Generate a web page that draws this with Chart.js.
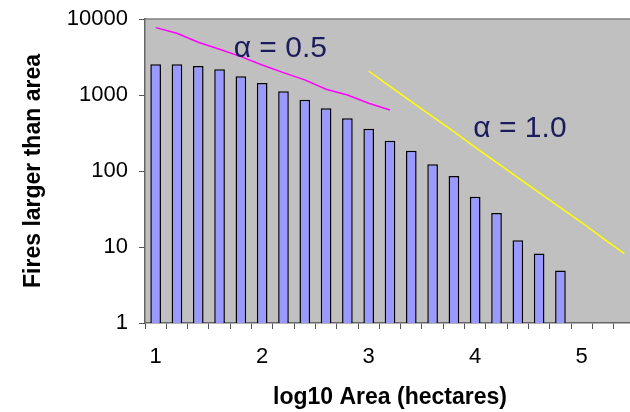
<!DOCTYPE html>
<html>
<head>
<meta charset="utf-8">
<script src="https://cdn.jsdelivr.net/npm/chart.js@4"></script>
<style>
  html, body { margin: 0; padding: 0; background: #fff; overflow: hidden; }
  #wrap { width: 640px; height: 412px; }
</style>
</head>
<body>
<div id="wrap"><canvas id="fireChart" width="640" height="412"></canvas></div>
<script>
// Categories: log10 of burned area, step 0.2
const areaLabels = ["1.0", "1.2", "1.4", "1.6", "1.8", "2.0", "2.2", "2.4", "2.6", "2.8", "3.0", "3.2",
  "3.4", "3.6", "3.8", "4.0", "4.2", "4.4", "4.6", "4.8", "5.0", "5.2", "5.4"]

// Number of fires larger than each area
const firesLarger = [2540, 2540, 2410, 2180, 1760, 1440, 1120, 867, 668, 493, 360, 250,
  184, 123, 86, 46, 28, 12.3, 8.2, 4.9]

// Reference slopes
const alphaHalf = [7700, 6500, 4950, 4000, 3200, 2480, 1970, 1580, 1190, 1000, 780, 634]
const alphaOne = [null, null, null, null, null, null, null, null, null, null,
  2070, 1300, 820, 520, 330, 205, 130, 82, 52, 33, 21, 13, 8.2]

const yTicks = [1, 10, 100, 1000, 10000]

// Text notes, placed in data coordinates (category index, value)
const notes = [
  { text: "\u03b1 = 0.5", at: 5.85, value: 4070 },
  { text: "\u03b1 = 1.0", at: 17.1, value: 360 },
]

const FONT = "'Liberation Sans', Arial, sans-serif"

// gray plot area + top border, then the text notes
const plotBackground = {
  id: "plotBackground",
  beforeDraw(chart) {
    const { ctx, chartArea: a } = chart
    ctx.save()
    ctx.fillStyle = "#C0C0C0"
    ctx.fillRect(a.left, a.top, a.right - a.left, a.bottom - a.top)
    ctx.strokeStyle = "#808080"
    ctx.lineWidth = 1.5
    ctx.beginPath()
    ctx.moveTo(a.left, a.top)
    ctx.lineTo(a.right, a.top)
    ctx.stroke()
    ctx.restore()
  },
  afterDraw(chart) {
    const { ctx } = chart
    const xs = chart.scales.x
    const ys = chart.scales.y
    ctx.save()
    ctx.fillStyle = "#1c1c5c"
    ctx.font = "30px " + FONT
    ctx.textAlign = "center"
    ctx.textBaseline = "middle"
    notes.forEach((n) => {
      ctx.fillText(n.text, xs.getPixelForValue(n.at), ys.getPixelForValue(n.value))
    })
    ctx.restore()
  },
}

const ctx = document.getElementById("fireChart").getContext("2d")
new Chart(ctx, {
  type: "bar",
  data: {
    labels: areaLabels,
    datasets: [
      {
        type: "line",
        data: alphaHalf,
        borderColor: "#FF00FF",
        borderWidth: 1.5,
        pointRadius: 0,
        tension: 0,
        order: 1,
      },
      {
        type: "line",
        data: alphaOne,
        borderColor: "#FFFF00",
        borderWidth: 1.5,
        pointRadius: 0,
        tension: 0,
        order: 1,
      },
      {
        data: firesLarger,
        backgroundColor: "#9999FF",
        borderColor: "#000000",
        borderWidth: 1.5,
        barPercentage: 0.5,
        categoryPercentage: 1,
        order: 2,
      },
    ],
  },
  options: {
    responsive: false,
    animation: false,
    devicePixelRatio: 1,
    layout: { padding: { top: 19, right: 5, left: 0, bottom: 0 } },
    plugins: {
      legend: { display: false },
      tooltip: { enabled: false },
    },
    scales: {
      x: {
        type: "category",
        offset: true,
        grid: { display: true, offset: true, drawOnChartArea: false, tickLength: 6, color: "#555", lineWidth: 1 },
        border: { display: true, color: "#666", width: 1.5 },
        ticks: {
          autoSkip: false,
          maxRotation: 0,
          padding: 15,
          color: "#000",
          font: { family: FONT, size: 22 },
          callback(value) {
            const v = parseFloat(this.getLabelForValue(value))
            return Number.isInteger(v) ? String(v) : ""
          },
        },
        title: {
          display: true,
          text: "log10 Area (hectares)",
          color: "#000",
          font: { family: FONT, size: 23, weight: "bold" },
          padding: { top: 0, bottom: 1 },
        },
        afterFit(scale) {
          scale.height = 89
          scale.paddingLeft = 0
          scale.paddingRight = 0
        },
      },
      y: {
        type: "logarithmic",
        min: 1,
        max: 10000,
        grid: { display: true, drawOnChartArea: false, tickLength: 6, color: "#555", lineWidth: 1 },
        border: { display: true, color: "#666", width: 1.5 },
        afterBuildTicks(scale) {
          scale.ticks = yTicks.map((v) => ({ value: v }))
        },
        ticks: {
          padding: 11,
          color: "#000",
          font: { family: FONT, size: 22 },
          callback: (v) => String(v),
        },
        title: {
          display: true,
          text: "Fires larger than area",
          color: "#000",
          font: { family: FONT, size: 23, weight: "bold" },
          padding: { top: 20, bottom: 0 },
        },
        afterFit(scale) {
          scale.width = 145
          scale.paddingTop = 0
          scale.paddingBottom = 0
        },
      },
    },
  },
  plugins: [plotBackground],
})
</script>
</body>
</html>
